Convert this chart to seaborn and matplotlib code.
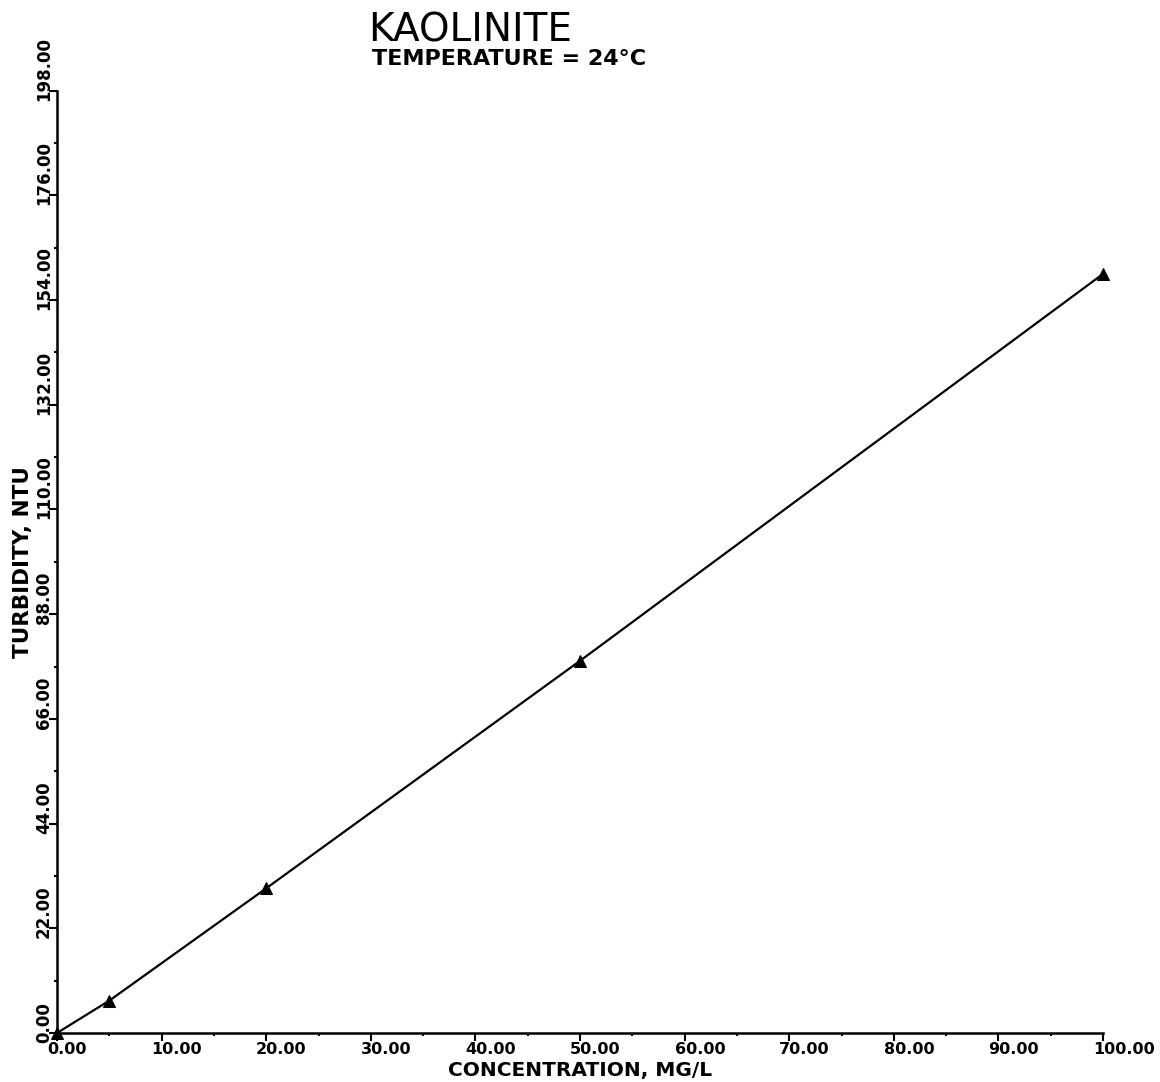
import matplotlib
matplotlib.use("Agg")
import matplotlib.pyplot as plt
import matplotlib.transforms as mtransforms
from matplotlib.ticker import MultipleLocator
import pandas as pd
import seaborn as sns

# Measured kaolinite suspension turbidity
concentration = [0, 5, 20, 50, 100]          # MG/L
turbidity = [0.0, 6.8, 30.4, 78.2, 159.5]    # NTU

x_ticks = [0, 10, 20, 30, 40, 50, 60, 70, 80, 90, 100]
y_ticks = [0, 22, 44, 66, 88, 110, 132, 154, 176, 198]
x_tick_labels = [f"{v:.2f}" for v in x_ticks]
y_tick_labels = [f"{v:.2f}" for v in y_ticks]

title_text = "KAOLINITE"
subtitle_text = "TEMPERATURE = 24°C"
x_label = "CONCENTRATION, MG/L"
y_label = "TURBIDITY, NTU"

sns.set_theme(style="ticks")
plt.rcParams["font.family"] = ["DejaVu Sans"]

W, H, DPI = 1160, 1082, 100
fig = plt.figure(figsize=(W / DPI, H / DPI), dpi=DPI)
fig.patch.set_facecolor("white")

x0, x1, y0, y1 = 57, 1103, 1033, 90.7
ax = fig.add_axes([x0 / W, 1 - y0 / H, (x1 - x0) / W, (y0 - y1) / H])
ax.set_facecolor("white")

df = pd.DataFrame({"conc": concentration, "turb": turbidity})
sns.lineplot(data=df, x="conc", y="turb", ax=ax, color="black",
             linewidth=1.6, marker="^", markersize=9,
             markerfacecolor="black", markeredgecolor="black",
             clip_on=False)

ax.set_xlim(0, 100)
ax.set_ylim(0, 198)
ax.set_xticks(x_ticks)
ax.set_xticklabels(x_tick_labels)
ax.set_yticks(y_ticks)
ax.set_yticklabels(y_tick_labels)
ax.xaxis.set_minor_locator(MultipleLocator(5))
ax.yaxis.set_minor_locator(MultipleLocator(11))

sns.despine(ax=ax)
for side in ("left", "bottom"):
    ax.spines[side].set_linewidth(1.8)
    ax.spines[side].set_color("black")

ax.tick_params(which="major", direction="out", length=6, width=1.5,
               color="black", labelcolor="black", labelsize=12)
ax.tick_params(which="minor", direction="out", length=2.5, width=1.5,
               color="black")
ax.tick_params(axis="x", which="major", pad=0.3)
ax.tick_params(axis="y", which="major", pad=-3)

# tick labels: x labels start just left of the tick, y labels run upward
for lab in ax.get_xticklabels():
    lab.set_fontweight("bold")
    lab.set_fontsize(11.5)
    lab.set_ha("left")
    lab.set_transform(lab.get_transform() +
                      mtransforms.ScaledTranslation(-10 / DPI, 0, fig.dpi_scale_trans))
for lab in ax.get_yticklabels():
    lab.set_fontweight("bold")
    lab.set_rotation(90)
    lab.set_rotation_mode("anchor")
    lab.set_ha("left")
    lab.set_va("bottom")
    lab.set_transform(lab.get_transform() +
                      mtransforms.ScaledTranslation(0, -10 / DPI, fig.dpi_scale_trans))

ax.set_xlabel(x_label, fontsize=14.5, fontweight="bold", color="black")
ax.set_ylabel(y_label, fontsize=15.5, fontweight="bold", color="black")
ax.xaxis.set_label_coords(0.5, (y0 - 1061) / (y0 - y1))
ax.yaxis.set_label_coords((33 - x0) / (x1 - x0), 0.5)

fig.text(368 / W, 1 - 42 / H, title_text, fontsize=28, ha="left",
         va="baseline", color="black")
fig.text(372 / W, 1 - 65 / H, subtitle_text, fontsize=16, ha="left",
         va="baseline", fontweight="bold", color="black")

fig.savefig("out.png", dpi=DPI, facecolor="white")
